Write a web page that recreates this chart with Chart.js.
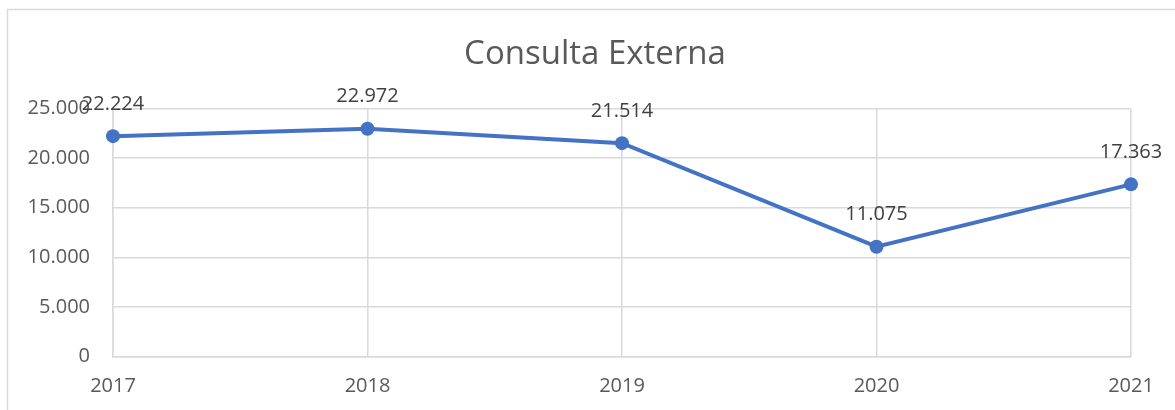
<!DOCTYPE html>
<html>
<head>
<meta charset="utf-8">
<script src="https://cdn.jsdelivr.net/npm/chart.js@4"></script>
<style>
  html, body { margin: 0; padding: 0; background: #fff; }
  #wrap { width: 1175px; height: 410px; }
</style>
</head>
<body>
<div id="wrap"><canvas id="chart"></canvas></div>
<script>
const YEARS = ['2017', '2018', '2019', '2020', '2021'];
const VISITS = [22224, 22972, 21514, 11075, 17363];
const Y_MIN = 0, Y_MAX = 25000, Y_STEP = 5000;

const FONT = 'Open Sans, Lato, sans-serif';

function fmt(v) {
  return String(v).replace(/\B(?=(\d{3})+(?!\d))/g, '.');
}

// marco gris claro del gráfico (sale por la derecha y por abajo)
const framePlugin = {
  id: 'frame',
  afterLayout(chart) {
    // el título va centrado en todo el ancho, no en el hueco que deja el padding derecho
    if (chart.titleBlock) chart.titleBlock.right = chart.width;
  },
  beforeDraw(chart) {
    const ctx = chart.ctx;
    ctx.save();
    ctx.fillStyle = '#fff';
    ctx.fillRect(0, 0, chart.width, chart.height);
    ctx.strokeStyle = '#d9d9d9';
    ctx.lineWidth = 1.5;
    ctx.strokeRect(7.5, 9.5, 1300, 600);
    ctx.restore();
  }
};

// etiquetas de datos encima de cada punto
const labelsPlugin = {
  id: 'pointLabels',
  afterDatasetsDraw(chart) {
    const ctx = chart.ctx;
    const meta = chart.getDatasetMeta(0);
    ctx.save();
    ctx.font = '20px ' + FONT;
    ctx.fillStyle = '#404040';
    ctx.textAlign = 'center';
    ctx.textBaseline = 'middle';
    meta.data.forEach((pt, i) => {
      ctx.fillText(fmt(VISITS[i]), pt.x, pt.y - 32);
    });
    ctx.restore();
  }
};

new Chart(document.getElementById('chart'), {
  type: 'line',
  data: {
    labels: YEARS,
    datasets: [{
      data: VISITS,
      borderColor: '#4472c4',
      backgroundColor: '#4472c4',
      borderWidth: 4,
      pointRadius: 7,
      pointHoverRadius: 7,
      pointBorderWidth: 0,
      tension: 0,
      fill: false,
    }],
  },
  options: {
    responsive: true, maintainAspectRatio: false,
    animation: false,
    layout: { padding: { left: 15, right: 44, top: 14, bottom: 0 } },
    plugins: {
      legend: { display: false },
      tooltip: { enabled: false },
      title: {
        display: true,
        text: 'Consulta Externa',
        color: '#595959',
        font: { family: FONT, size: 33, weight: 'normal' },
        padding: { top: 21, bottom: 34 },
      },
    },
    scales: {
      x: {
        offset: false,
        grid: { color: '#d9d9d9', lineWidth: 1.5, drawTicks: false },
        border: { color: '#d9d9d9', width: 1.5 },
        ticks: { color: '#595959', font: { family: FONT, size: 20 }, padding: 18, maxRotation: 0 },
        afterFit(s) { s.height = 53.5; },
      },
      y: {
        min: Y_MIN, max: Y_MAX,
        grid: { color: '#d9d9d9', lineWidth: 1.5, drawTicks: false },
        border: { color: '#d9d9d9', width: 1.5 },
        ticks: {
          stepSize: Y_STEP,
          color: '#595959',
          font: { family: FONT, size: 20 },
          padding: 23,
          callback: v => fmt(v),
        },
        afterFit(s) { s.width = 98; },
      },
    },
  },
  plugins: [framePlugin, labelsPlugin],
});
</script>
</body>
</html>
